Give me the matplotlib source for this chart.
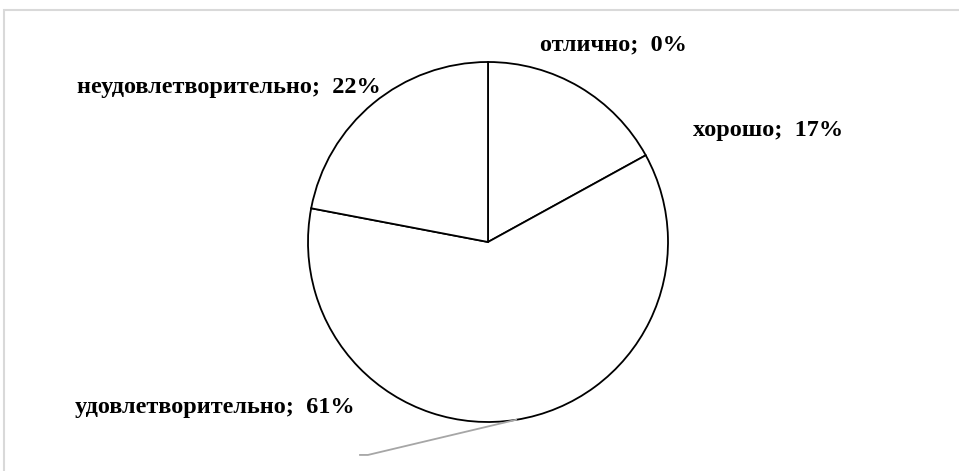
import numpy as np
import matplotlib.pyplot as plt
from matplotlib.patches import Rectangle

categories = ["отлично", "хорошо", "удовлетворительно", "неудовлетворительно"]
shares = [0, 17, 61, 22]
label_pos = [(0.29, 1.094), (1.139, 0.622), (-2.294, -0.917), (-2.283, 0.856)]

plt.rcParams["font.family"] = ["Liberation Serif", "DejaVu Serif"]

fig = plt.figure(figsize=(9.59, 4.71), dpi=100)
ax = fig.add_axes([0, 0, 1, 1])

# frame around chart area
fig.patches.append(Rectangle((4 / 959, -0.1), 1.2, 1 - 10 / 471 + 0.1,
                             transform=fig.transFigure, fill=False,
                             edgecolor="#d9d9d9", lw=1.5))

wedges, _ = ax.pie(shares, startangle=90, counterclock=False, radius=1,
                   colors=["white"] * len(shares),
                   wedgeprops=dict(edgecolor="black", linewidth=1.3))

# pie() resets limits, so set them afterwards
ax.set_xlim(-488 / 180, (959 - 488) / 180)
ax.set_ylim(-(471 - 242) / 180, 242 / 180)
ax.set_aspect("equal")
ax.axis("off")

for cat, val, (x, y) in zip(categories, shares, label_pos):
    ax.text(x, y, f"{cat};  {val}%", fontsize=17.5, fontweight="bold",
            ha="left", va="center")

# leader line for the large slice
w = wedges[2]
mid = np.deg2rad((w.theta1 + w.theta2) / 2)
x0, y0 = np.cos(mid), np.sin(mid)
ax.plot([x0, -0.667, -0.711], [y0, -1.183, -1.183], color="#a6a6a6", lw=1.3)

fig.savefig("out.png", dpi=100)
